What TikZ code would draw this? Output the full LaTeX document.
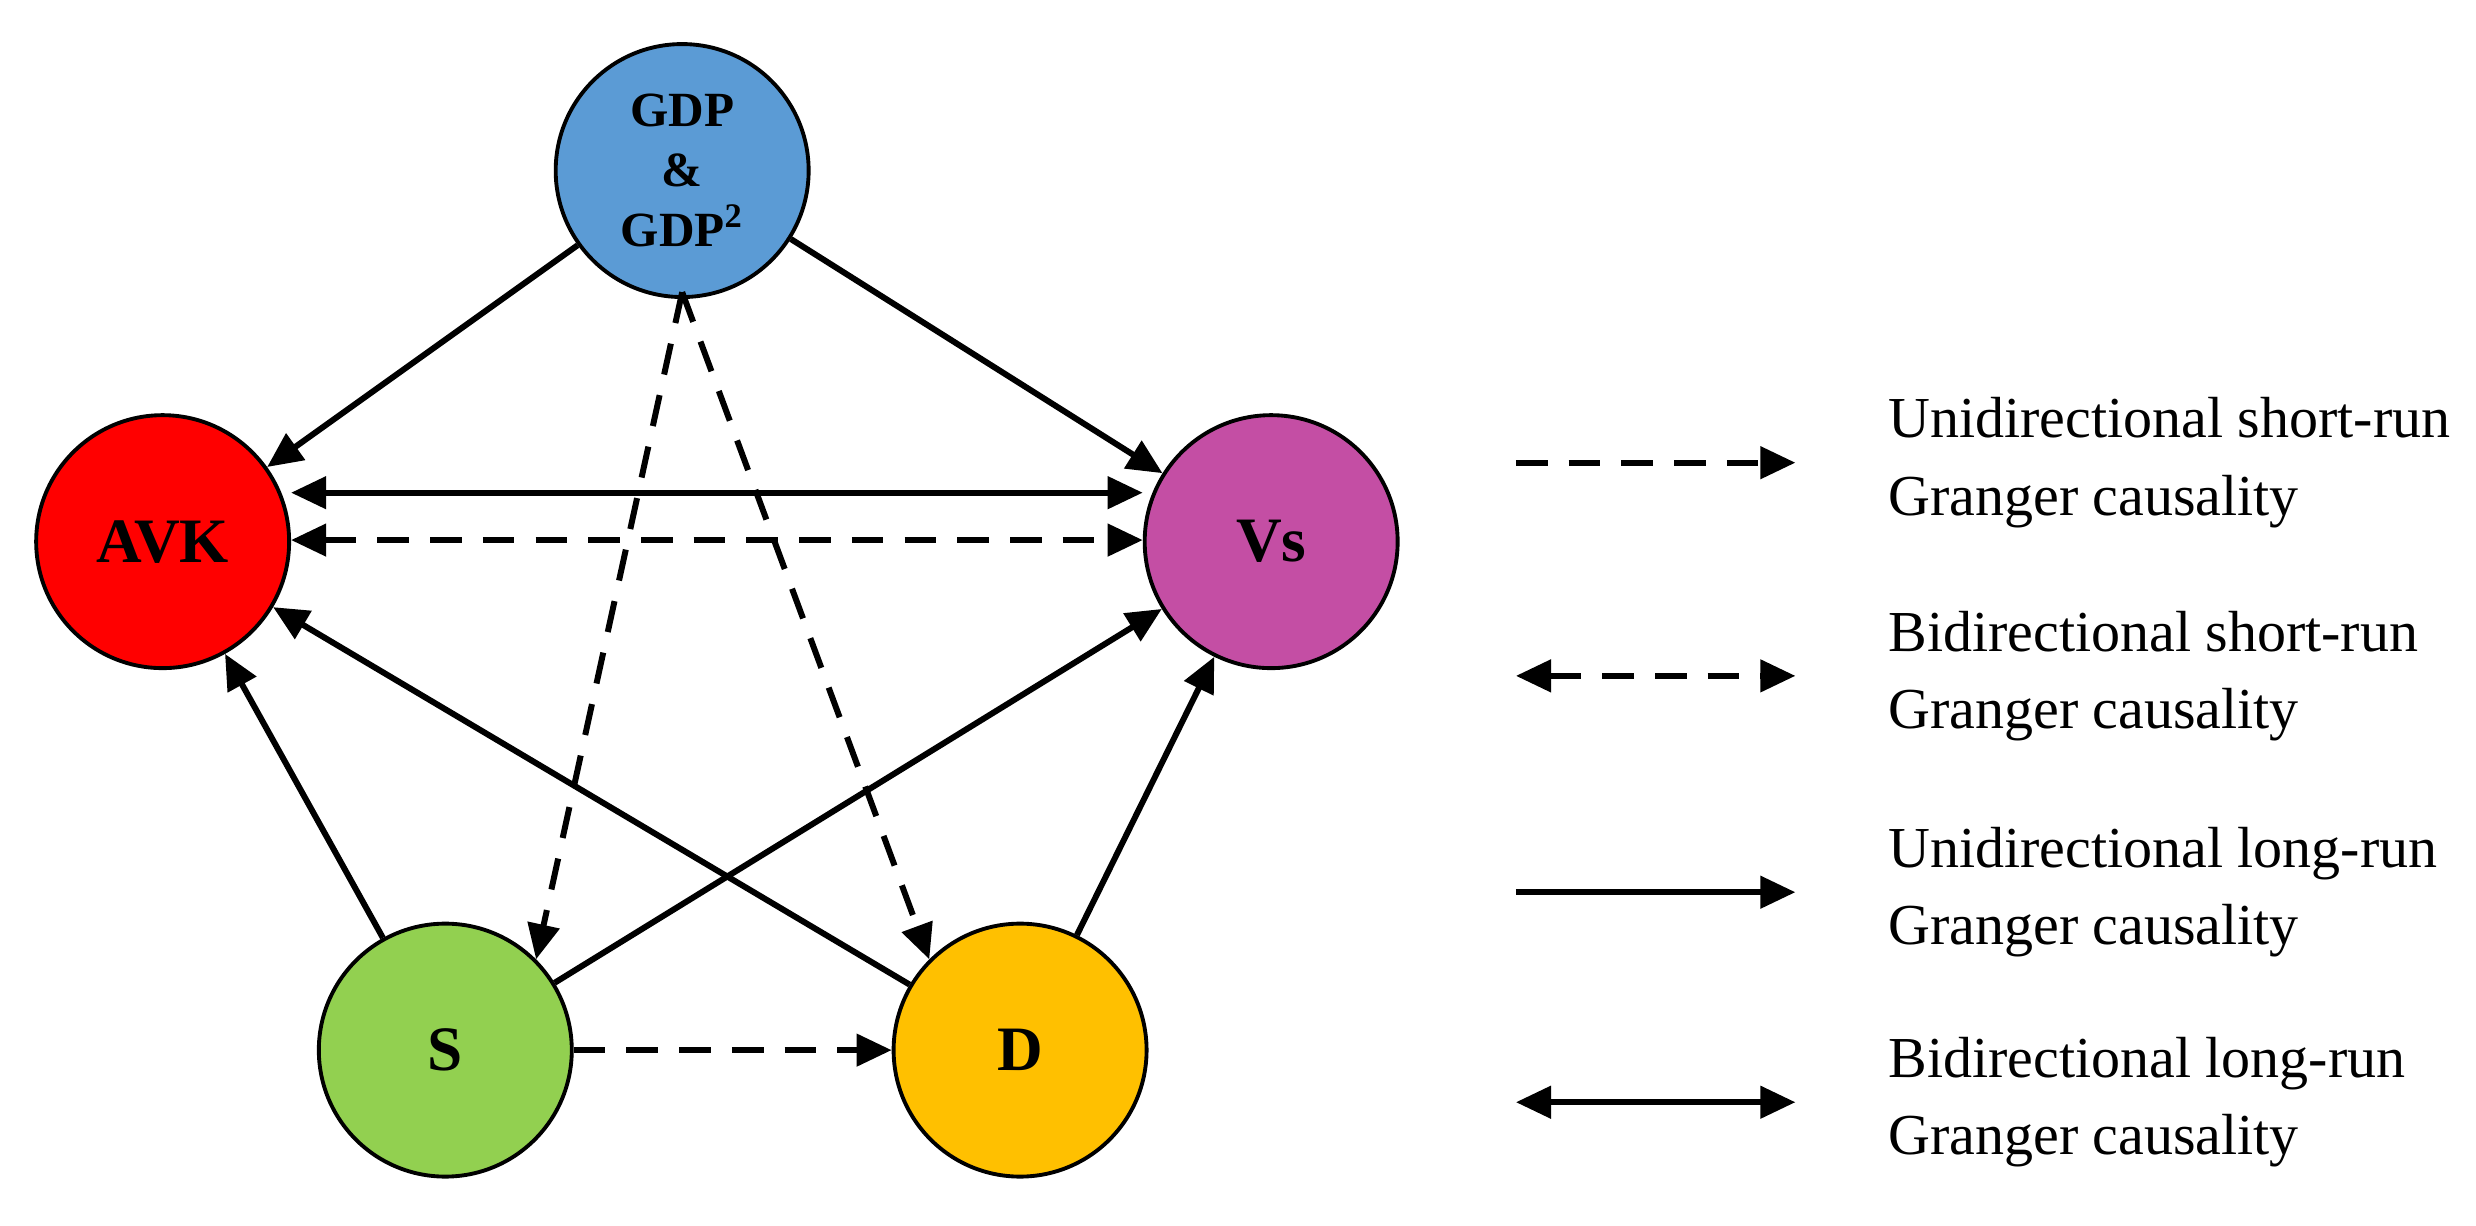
\documentclass[tikz,border=0pt]{standalone}
\usepackage{fontspec}
\setmainfont{Liberation Serif}
\usetikzlibrary{arrows.meta}
\begin{document}
\begin{tikzpicture}[x=0.01579cm,y=-0.01579cm,
 nd/.style={circle,draw=black,line width=1.1pt,minimum size=2.53cm,inner sep=0pt,font=\fontsize{18}{20}\selectfont\bfseries},
 ar/.style={line width=1.7pt,-{Triangle[length=10pt,width=9pt]}},
 br/.style={line width=1.7pt,{Triangle[length=10pt,width=9pt]}-{Triangle[length=10pt,width=9pt]}},
 ds/.style={dash pattern=on 9pt off 6pt},
 lt/.style={anchor=west,align=left,font=\fontsize{16.5}{22}\selectfont}]
\useasboundingbox (0,0) rectangle (1568,776);
\definecolor{cb}{HTML}{5B9BD5}\definecolor{cv}{HTML}{C44EA4}
\definecolor{cs}{HTML}{92D050}\definecolor{cd}{HTML}{FFC000}
\node[nd,fill=cb,font=\fontsize{14}{17}\selectfont\bfseries,align=center] (g) at (432,108) {GDP\\\&\\GDP\textsuperscript{2}};
\node[nd,fill=red] (a) at (103,343) {AVK};
\node[nd,fill=cv] (v) at (805,343) {Vs};
\node[nd,fill=cs] (s) at (282,665) {S};
\node[nd,fill=cd] (d) at (646,665) {D};
\coordinate (gb) at (432,185);
\draw[ar] (g) -- (a);
\draw[ar] (g) -- (v);
\draw[br] (a.east|-0,312) -- (v.west|-0,312);
\draw[br,ds] (a.east|-0,342) -- (v.west|-0,342);
\draw[ar,ds] (gb) -- (s.north east);
\draw[ar,ds] (gb) -- (d.north west);
\draw[ar] (s) -- (a);
\draw[ar] (s) -- (v);
\draw[ar] (d) -- (a);
\draw[ar] (d) -- (v);
\draw[ar,ds] (s) -- (d);
\coordinate (l1a) at (960,293); \coordinate (l1b) at (1137,293);
\coordinate (l2a) at (960,428); \coordinate (l2b) at (1137,428);
\coordinate (l3a) at (960,565); \coordinate (l3b) at (1137,565);
\coordinate (l4a) at (960,698); \coordinate (l4b) at (1137,698);
\draw[ar,ds] (l1a) -- (l1b);
\draw[br,ds] (l2a) -- (l2b);
\draw[ar] (l3a) -- (l3b);
\draw[br] (l4a) -- (l4b);
\node[lt] (t1) at (1188,293) {Unidirectional short-run\\Granger causality};
\node[lt] (t2) at (1188,428) {Bidirectional short-run\\Granger causality};
\node[lt] (t3) at (1188,565) {Unidirectional long-run\\Granger causality};
\node[lt] (t4) at (1188,698) {Bidirectional long-run\\Granger causality};
\end{tikzpicture}
\end{document}
